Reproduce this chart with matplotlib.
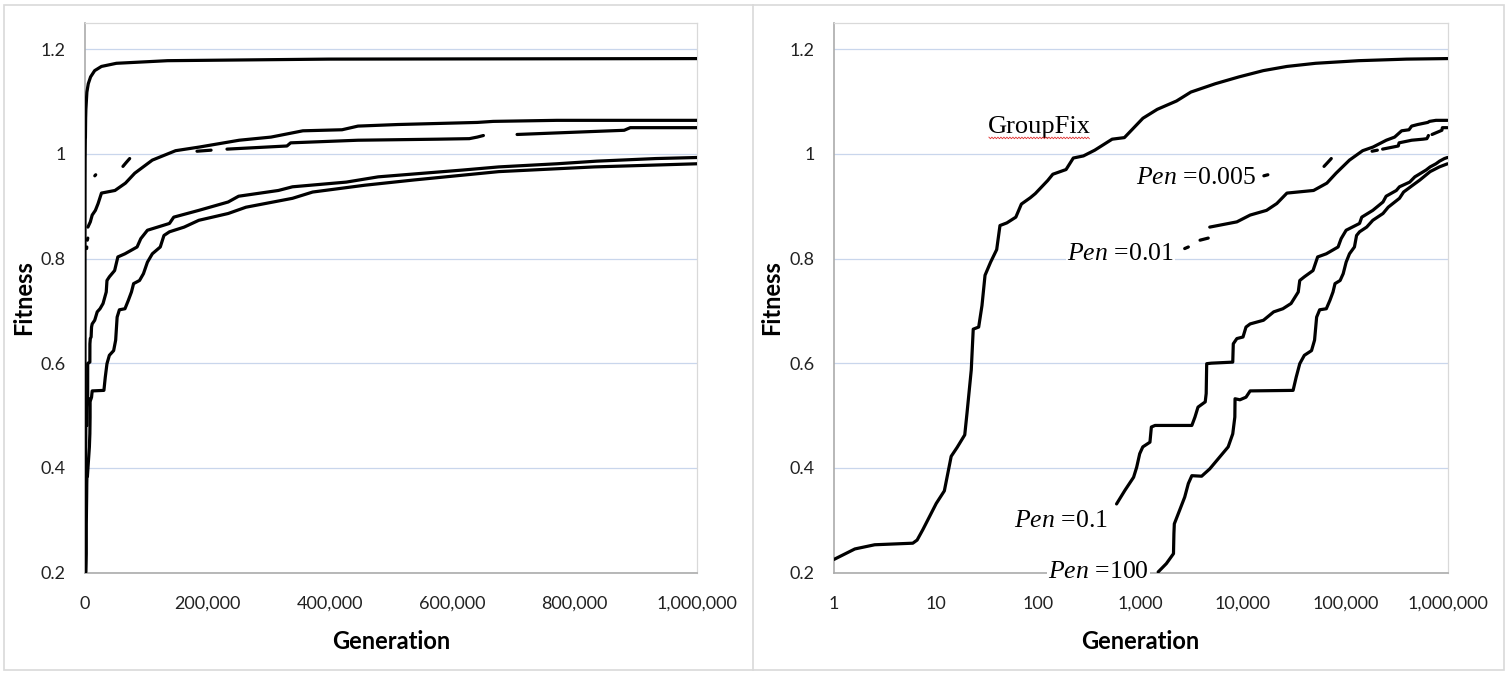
import numpy as np
import matplotlib
matplotlib.use("Agg")
import matplotlib.pyplot as plt
import matplotlib.ticker as mticker
from matplotlib.lines import Line2D
from matplotlib.patches import Rectangle
from matplotlib.transforms import IdentityTransform

plt.rcParams.update({
    "font.family": "Lato",
    "mathtext.fontset": "custom",
    "mathtext.it": "Liberation Serif:italic",
    "mathtext.rm": "Liberation Serif",
})

nan = np.nan

# ── Data ──────────────────────────────────────────────────────────────────────

groupfix_gen = [1, 1.6, 2.5, 5.9, 6.5, 7.4, 10, 12, 14, 16, 19, 20, 22, 23, 26,
                28, 30, 34, 39, 42, 49, 60, 68, 83, 93, 123, 138, 186, 219, 275,
                355, 525, 692, 1050, 1450, 2240, 3090, 5370, 9120, 15800, 26900,
                51300, 135000, 398000, 1000000]
groupfix_fit = [0.225, 0.245, 0.253, 0.256, 0.262, 0.282, 0.332, 0.356, 0.422,
                0.439, 0.463, 0.505, 0.587, 0.665, 0.669, 0.710, 0.768, 0.793,
                0.817, 0.863, 0.868, 0.879, 0.904, 0.916, 0.924, 0.949, 0.961,
                0.970, 0.992, 0.996, 1.007, 1.028, 1.031, 1.068, 1.085, 1.101,
                1.118, 1.134, 1.147, 1.159, 1.167, 1.173, 1.178, 1.181, 1.182]

pen001_gen = [2690, 2920, nan, 3800, 4570, nan, 4730, 8710, 11750, 17000, 21400,
              26900, 49000, 66100, 81300, 110000, 148000, 187000, 252000,
              304000, 356000, 420000, 446000, 511000, 641000, 667000, 771000,
              1000000]
pen001_fit = [0.819, 0.822, nan, 0.835, 0.839, nan, 0.860, 0.870, 0.883, 0.892,
              0.905, 0.925, 0.930, 0.944, 0.963, 0.988, 1.006, 1.013, 1.026,
              1.032, 1.044, 1.046, 1.053, 1.056, 1.060, 1.062, 1.064, 1.064]

pen0005_gen = [16000, 17500, nan, 62000, 67000, 73000, nan, 183000, 206000, nan,
               232000, 330000, 336000, 446000, 576000, 628000, 641000, 651000,
               nan, 706000, 881000, 891000, 1000000]
pen0005_fit = [0.958, 0.960, nan, 0.976, 0.983, 0.991, nan, 1.005, 1.007, nan,
               1.009, 1.015, 1.021, 1.026, 1.028, 1.029, 1.032, 1.035,
               nan, 1.037, 1.045, 1.050, 1.050]

pen01_gen = [580, 700, 851, 912, 977, 1047, 1230, 1270, 1380, 3160, 3390, 3630,
             4270, 4365, 4415, 4900, 7940, 8035, 8710, 10000, 10700, 11750,
             15850, 19950, 24550, 29500, 34700, 35900, 39800, 48400, 53700,
             65300, 85100, 91200, 102000, 138000, 145000, 186000, 234000,
             251000, 316000, 339000, 427000, 479000, 617000, 676000, 771000,
             836000, 933000, 1000000]
pen01_fit = [0.331, 0.357, 0.382, 0.401, 0.427, 0.440, 0.449, 0.478, 0.481,
             0.481, 0.497, 0.516, 0.526, 0.542, 0.599, 0.600, 0.602, 0.637,
             0.647, 0.650, 0.669, 0.675, 0.682, 0.698, 0.704, 0.714, 0.736,
             0.758, 0.765, 0.777, 0.803, 0.809, 0.822, 0.838, 0.854, 0.867,
             0.879, 0.892, 0.908, 0.919, 0.930, 0.937, 0.946, 0.956, 0.969,
             0.975, 0.981, 0.986, 0.991, 0.993]

pen100_gen = [1480, 1780, 2090, 2100, 2110, 2130, 2400, 2690, 2920, 3160, 3940,
              4730, 7160, 7940, 8320, 8360, 9330, 10700, 11750, 30900, 33100,
              35900, 39800, 46800, 50100, 52500, 56200, 65300, 70800, 75900,
              79400, 89100, 95500, 102000, 110000, 123000, 129000, 138000,
              162000, 186000, 234000, 263000, 339000, 372000, 457000, 537000,
              676000, 832000, 1000000]
pen100_fit = [0.201, 0.217, 0.236, 0.255, 0.274, 0.293, 0.319, 0.344, 0.370,
              0.385, 0.384, 0.398, 0.440, 0.465, 0.497, 0.532, 0.530, 0.535,
              0.547, 0.548, 0.573, 0.599, 0.615, 0.624, 0.644, 0.688, 0.702,
              0.704, 0.720, 0.736, 0.752, 0.758, 0.771, 0.793, 0.809, 0.822,
              0.844, 0.851, 0.860, 0.873, 0.886, 0.898, 0.915, 0.927, 0.940,
              0.950, 0.966, 0.975, 0.981]

series = [
    (groupfix_gen, groupfix_fit),
    (pen0005_gen, pen0005_fit),
    (pen001_gen, pen001_fit),
    (pen01_gen, pen01_fit),
    (pen100_gen, pen100_fit),
]

# label text, generation, fitness (baseline) for the right panel
labels = [
    ("GroupFix", 32, 1.039),
    (r"$Pen$ =0.005", 895, 0.942),
    (r"$Pen$ =0.01", 190, 0.797),
    (r"$Pen$ =0.1", 57.5, 0.286),
    (r"$Pen$ =100", 124, 0.189),
]

Y_TICKS = [0.2, 0.4, 0.6, 0.8, 1.0, 1.2]
LIN_TICKS = [0, 200000, 400000, 600000, 800000, 1000000]
LOG_TICKS = [1, 10, 100, 1000, 10000, 100000, 1000000]

# ── Figure ────────────────────────────────────────────────────────────────────

W, H = 1511, 675
fig = plt.figure(figsize=(W / 100, H / 100), dpi=100)
fig.patch.set_facecolor("white")

# outer frame and divider
fig.add_artist(Rectangle((4 / W, 1 - 670 / H), 1500 / W, 665 / H,
                         transform=fig.transFigure, fill=False,
                         edgecolor="#D9D9D9", linewidth=1.2))
fig.add_artist(Line2D([753 / W, 753 / W], [1 - 670 / H, 1 - 5 / H],
                      transform=fig.transFigure, color="#D9D9D9", linewidth=1.2))

bottom = 1 - 572.5 / H
height = (572.5 - 23) / H
ax_lin = fig.add_axes([85 / W, bottom, (697 - 85) / W, height])
ax_log = fig.add_axes([834 / W, bottom, (1447.5 - 834) / W, height])

fmt_int = mticker.FuncFormatter(lambda v, p: f"{v:,.0f}")
fmt_y = mticker.FuncFormatter(lambda v, p: f"{v:g}")

for ax in (ax_lin, ax_log):
    for g, f in series:
        ax.plot(g, f, color="black", linewidth=2.3, solid_capstyle="round",
                solid_joinstyle="round", zorder=3)
    ax.set_ylim(0.2, 1.25)
    ax.set_yticks(Y_TICKS)
    ax.yaxis.set_major_formatter(fmt_y)
    ax.grid(axis="y", color="#C9D6EC", linewidth=0.9, zorder=0)
    ax.set_axisbelow(True)
    for s in ("left", "bottom"):
        ax.spines[s].set_color("#ABABAB")
        ax.spines[s].set_linewidth(1.2)
    for s in ("top", "right"):
        ax.spines[s].set_color("#D9D9D9")
        ax.spines[s].set_linewidth(0.9)
    ax.tick_params(axis="both", length=0, labelsize=13, labelcolor="#222222")
    ax.tick_params(axis="x", pad=17)
    ax.tick_params(axis="y", pad=14)
    ax.set_xlabel("Generation", fontsize=17, fontweight="bold")
    ax.set_ylabel("Fitness", fontsize=17, fontweight="bold")
    ax.xaxis.set_label_coords(0.5, -0.1247)
    ax.xaxis.label.set_va("center")
    ax.yaxis.set_label_coords(-0.101, 0.5)
    ax.yaxis.label.set_va("center")

ax_lin.set_xlim(0, 1000000)
ax_lin.set_xticks(LIN_TICKS)
ax_lin.xaxis.set_major_formatter(fmt_int)

ax_log.set_xscale("log")
ax_log.set_xlim(1, 1000000)
ax_log.set_xticks(LOG_TICKS)
ax_log.xaxis.set_minor_locator(mticker.NullLocator())
ax_log.xaxis.set_major_formatter(fmt_int)

texts = []
for text, gx, fy in labels:
    size = 19 if text == "GroupFix" else 18.5
    t = ax_log.text(gx, fy, text, fontsize=size, family="Liberation Serif",
                    ha="left", va="baseline", zorder=4,
                    bbox=dict(facecolor="white", edgecolor="none", pad=1.0))
    texts.append(t)

# spell-check squiggle under "GroupFix" (as in the word-processor screenshot)
renderer = fig.canvas.get_renderer()
bb = texts[0].get_window_extent(renderer)
xs = np.arange(bb.x0 + 1, bb.x1 - 1, 1.5)
ys = bb.y0 + 0.5 + 0.8 * (-1) ** np.arange(len(xs))
fig.add_artist(Line2D(xs, ys, transform=IdentityTransform(),
                      color="#E03030", linewidth=0.6))

fig.savefig("out.png", dpi=100)
